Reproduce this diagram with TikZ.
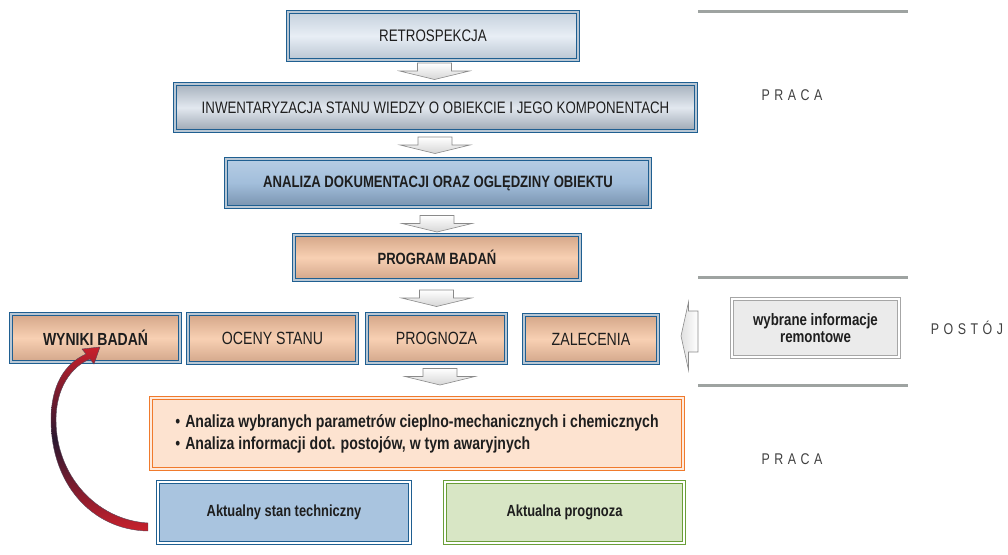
\documentclass[tikz,border=0pt]{standalone}
\usepackage{fontspec}
\setmainfont{Liberation Sans}[FakeStretch=0.8]
\usetikzlibrary{calc}
\definecolor{bord}{HTML}{1F5F91}
\definecolor{dblgap}{HTML}{B9C7D4}
\definecolor{txt}{HTML}{1E1E1E}
\definecolor{sepgray}{HTML}{9EA3A1}
\definecolor{arrgray}{HTML}{8A8A8A}
\definecolor{orng}{HTML}{F07A2C}
\definecolor{orfill}{HTML}{FDE3D0}
\definecolor{aktfill}{HTML}{A9C4DF}
\definecolor{grn}{HTML}{6A9E38}
\definecolor{grnfill}{HTML}{D8E6C5}
\definecolor{redA}{HTML}{C8202C}
\definecolor{darkA}{HTML}{2A1830}
\definecolor{rTop}{HTML}{C5D1DD}\definecolor{rBot}{HTML}{B9C5D2}\definecolor{rMid}{HTML}{E8EEF5}
\definecolor{sTop}{HTML}{A6B1BD}\definecolor{sBot}{HTML}{9CA7B3}\definecolor{sMid}{HTML}{E2E8EF}
\definecolor{bTop}{HTML}{B6CDE4}\definecolor{bBot}{HTML}{7892AE}\definecolor{bMid}{HTML}{A2BEDB}
\definecolor{pTop}{HTML}{D4A688}\definecolor{pBot}{HTML}{D2A68A}\definecolor{pMid}{HTML}{F8D0B3}
\begin{document}
\begin{tikzpicture}[x=1pt,y=-1pt,
  box/.style={draw=bord, double=dblgap, double distance=1.6pt, line width=0.9pt,
    inner sep=0pt, text=txt, align=center, font=\fontsize{17.7}{20}\selectfont},
  retrobox/.style={box, top color=rTop, bottom color=rBot, middle color=rMid},
  steelbox/.style={box, top color=sTop, bottom color=sBot, middle color=sMid},
  bluebox/.style={box, top color=bTop, bottom color=bBot, middle color=bMid},
  peachbox/.style={box, top color=pTop, bottom color=pBot, middle color=pMid},
  arrline/.style={draw=arrgray, line width=0.6pt},
  blockarr/.style={arrline, top color=white, bottom color=black!16},
  sepline/.style={draw=sepgray, line width=3pt},
  sidelabel/.style={text=txt!85, font=\fontsize{15.5}{16}\selectfont},
  pics/downarr/.style={code={
    \draw[blockarr] (-17,-8) -- (17,-8) -- (17,0) -- (35,0) -- (0,8.5) -- (-35,0) -- (-17,0) -- cycle;}}
]
\useasboundingbox (0,0) rectangle (1008,554);

% separator lines
\draw[sepline] (698,11) -- (908,11);
\draw[sepline] (698,277) -- (908,277);
\draw[sepline] (698,385) -- (908,385);

% main chain
\node[retrobox, minimum width=290pt, minimum height=48pt, font=\fontsize{16.7}{20}\selectfont] (retro) at (433,36) {RETROSPEKCJA};
\node[steelbox, minimum width=521pt, minimum height=47pt, font=\fontsize{16.6}{20}\selectfont] (inw) at (435.5,107.5) {INWENTARYZACJA STANU WIEDZY O OBIEKCIE I JEGO KOMPONENTACH};
\node[bluebox, minimum width=424pt, minimum height=48pt, font=\fontsize{16.4}{20}\selectfont\bfseries] (ana) at (438,183) {ANALIZA DOKUMENTACJI ORAZ OGLĘDZINY OBIEKTU};
\node[peachbox, minimum width=286pt, minimum height=45pt, font=\fontsize{16.3}{20}\selectfont\bfseries] (prog) at (437,257.5) {PROGRAM BADAŃ};

\node[peachbox, minimum width=169pt, minimum height=48pt, font=\fontsize{17.5}{20}\selectfont\bfseries] (wyn) at (95.5,338) {WYNIKI BADAŃ};
\node[peachbox, minimum width=169pt, minimum height=49pt] (oce) at (272.5,338.5) {OCENY STANU};
\node[peachbox, minimum width=139pt, minimum height=49pt] (pro) at (436.5,338.5) {PROGNOZA};
\node[peachbox, minimum width=134pt, minimum height=48pt] (zal) at (591,339) {ZALECENIA};

% block arrows
\pic at (434.5,71) {downarr};
\pic at (435,145) {downarr};
\pic at (437,223.5) {downarr};
\pic at (436.5,298) {downarr};
\pic at (440,376.5) {downarr};

% side block
\node[draw=black!35, double=white, double distance=1.4pt, line width=1pt, fill=black!8,
  minimum width=167pt, minimum height=58pt, inner sep=0pt, align=center, text=txt,
  font=\fontsize{16.6}{16.5}\selectfont\bfseries] (wyb) at (815.5,328) {wybrane informacje\\remontowe};
\draw[arrline, left color=black!12, right color=white] (681,336) -- (688.5,302) -- (688.5,311) -- (698,311) -- (698,352) -- (688.5,352) -- (688.5,370) -- cycle;

% orange analysis box
\node[draw=orng, double=orfill!70!white, double distance=1.4pt, line width=0.9pt, fill=orfill,
  minimum width=532pt, minimum height=71pt, inner sep=0pt, align=left, text=txt,
  font=\fontsize{17.6}{22}\selectfont\bfseries] (orange) at (417,433.5)
  {{\mdseries•}\hspace{5pt}Analiza wybranych parametrów cieplno-mechanicznych i chemicznych\\
   {\mdseries•}\hspace{5pt}Analiza informacji dot. postojów, w tym awaryjnych};

% result boxes
\node[draw=bord, double=white, double distance=1.4pt, line width=1.3pt, fill=aktfill,
  minimum width=252pt, minimum height=61pt, inner sep=0pt, text=txt,
  font=\fontsize{16.1}{18}\selectfont\bfseries] (akt) at (284,512.5) {Aktualny stan techniczny};
\node[draw=grn, double=white, double distance=1.4pt, line width=1.3pt, fill=grnfill,
  minimum width=239pt, minimum height=61pt, inner sep=0pt, text=txt,
  font=\fontsize{16.1}{18}\selectfont\bfseries] (akp) at (564.5,512.5) {Aktualna prognoza};

% side labels
\node[sidelabel] (praca1) at (792,95) {P\kern4.5pt R\kern4.5pt A\kern4.5pt C\kern4.5pt A};
\node[sidelabel] (postoj) at (967,328) {P\kern4.5pt O\kern4.5pt S\kern4.5pt T\kern4.5pt Ó\kern4.5pt J};
\node[sidelabel] (praca2) at (792,459) {P\kern4.5pt R\kern4.5pt A\kern4.5pt C\kern4.5pt A};

% curved red arrow from akt to wyn
\shade[top color=redA, bottom color=redA, middle color=darkA, draw=darkA!80, line width=0.4pt]
  (148,531) .. controls (92,530) and (51,484) .. (51,420)
  .. controls (51,386) and (64,364) .. (86,354) -- (82,349) -- (100,347) -- (94,364) -- (90,359)
  .. controls (71,367) and (56,388) .. (56,420)
  .. controls (56,475) and (96,520) .. (148,523) -- cycle;
\end{tikzpicture}
\end{document}
